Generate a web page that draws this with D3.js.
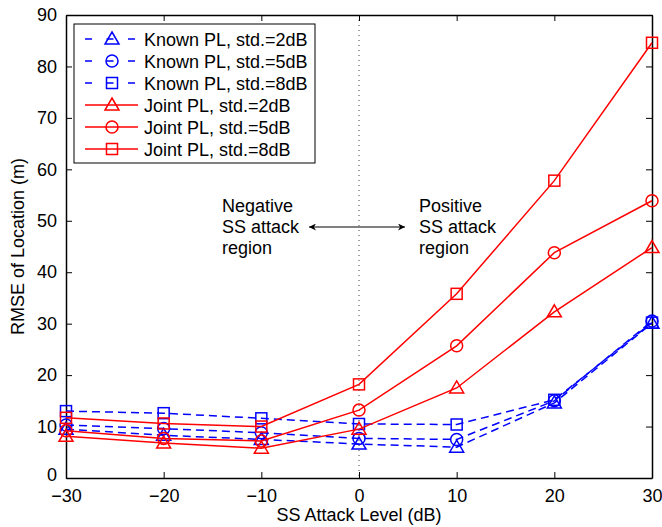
<!DOCTYPE html>
<html lang="en">
<head>
<meta charset="utf-8">
<title>RMSE vs SS attack level</title>
<script src="https://d3js.org/d3.v7.min.js"></script>
<style>
  body { margin: 0; background: #fff; }
  text { font-family: "Liberation Sans", Arial, Helvetica, sans-serif; }
</style>
</head>
<body>
<svg width="662" height="527"></svg>
<script>
// data
const attackLevels = [-30, -20, -10, 0, 10, 20, 30];
const xTicks = [-30, -20, -10, 0, 10, 20, 30];
const yTicks = [0, 10, 20, 30, 40, 50, 60, 70, 80, 90];

const knownPL2 = [9.5, 8.3, 7.5, 6.6, 6.0, 14.6, 30.1];
const knownPL5 = [10.3, 9.6, 8.8, 7.7, 7.5, 15.0, 30.5];
const knownPL8 = [13.0, 12.6, 11.6, 10.5, 10.4, 15.2, 30.2];
const jointPL2 = [8.1, 6.8, 5.8, 9.5, 17.5, 32.3, 44.8];
const jointPL5 = [9.2, 7.7, 7.2, 13.2, 25.7, 43.8, 53.9];
const jointPL8 = [11.7, 10.6, 10.0, 18.2, 35.8, 57.8, 84.6];

const seriesNames = ["Known PL, std.=2dB", "Known PL, std.=5dB", "Known PL, std.=8dB",
                     "Joint PL, std.=2dB", "Joint PL, std.=5dB", "Joint PL, std.=8dB"];

const series = [
  {name: seriesNames[0], vals: knownPL2, color: "#0000ff", dash: "8,5", marker: "tri"},
  {name: seriesNames[1], vals: knownPL5, color: "#0000ff", dash: "8,5", marker: "circ"},
  {name: seriesNames[2], vals: knownPL8, color: "#0000ff", dash: "8,5", marker: "sq"},
  {name: seriesNames[3], vals: jointPL2, color: "#ff0000", dash: null, marker: "tri"},
  {name: seriesNames[4], vals: jointPL5, color: "#ff0000", dash: null, marker: "circ"},
  {name: seriesNames[5], vals: jointPL8, color: "#ff0000", dash: null, marker: "sq"}
];

const svg = d3.select("svg");
const m = {left: 66, right: 10, top: 15, bottom: 49};
const W = 662, H = 527;
const iw = W - m.left - m.right, ih = H - m.top - m.bottom;
const fs = "18px";

const x = d3.scaleLinear().domain([-30, 30]).range([m.left, m.left + iw]);
const y = d3.scaleLinear().domain([0, 90]).range([m.top + ih, m.top]);

// vertical dotted line at 0
svg.append("line")
  .attr("x1", x(0)).attr("x2", x(0))
  .attr("y1", y(90)).attr("y2", y(0))
  .attr("stroke", "#444").attr("stroke-width", 1)
  .attr("stroke-dasharray", "1,4");

// axes, ticks pointing inward (matlab style)
const fmt = d => d < 0 ? "\u2212" + Math.abs(d) : d;
const axB = svg.append("g").attr("transform", `translate(0,${y(0)})`)
  .call(d3.axisBottom(x).tickValues(xTicks).tickSizeInner(-6).tickSizeOuter(0).tickPadding(11).tickFormat(fmt));
const axT = svg.append("g").attr("transform", `translate(0,${y(90)})`)
  .call(d3.axisTop(x).tickValues(xTicks).tickSizeInner(-6).tickSizeOuter(0).tickFormat(""));
const axL = svg.append("g").attr("transform", `translate(${x(-30)},0)`)
  .call(d3.axisLeft(y).tickValues(yTicks).tickSizeInner(-6).tickSizeOuter(0).tickPadding(9));
const axR = svg.append("g").attr("transform", `translate(${x(30)},0)`)
  .call(d3.axisRight(y).tickValues(yTicks).tickSizeInner(-6).tickSizeOuter(0).tickFormat(""));

[axB, axT, axL, axR].forEach(g => {
  g.select(".domain").attr("stroke", "#000").attr("stroke-width", 1.5);
  g.selectAll(".tick line").attr("stroke", "#000").attr("stroke-width", 1);
  g.selectAll("text").attr("fill", "#000").style("font-size", fs);
});
// lift the bottom "0" a touch so it clears the -30 label
axL.selectAll(".tick text").filter(d => d === 0).attr("dy", "0.15em");

// marker helper
function drawMarker(g, type, cx, cy, color) {
  if (type === "tri") {
    g.append("path")
      .attr("d", `M${cx},${cy - 7}L${cx + 7},${cy + 5}L${cx - 7},${cy + 5}Z`)
      .attr("fill", "none").attr("stroke", color).attr("stroke-width", 1.5);
  } else if (type === "circ") {
    g.append("circle").attr("cx", cx).attr("cy", cy).attr("r", 6)
      .attr("fill", "none").attr("stroke", color).attr("stroke-width", 1.5);
  } else {
    g.append("rect").attr("x", cx - 5.5).attr("y", cy - 5.5).attr("width", 11).attr("height", 11)
      .attr("fill", "none").attr("stroke", color).attr("stroke-width", 1.5);
  }
}

const line = d3.line().x((d, i) => x(attackLevels[i])).y(d => y(d));

series.forEach(s => {
  const g = svg.append("g");
  g.append("path").datum(s.vals)
    .attr("d", line)
    .attr("fill", "none")
    .attr("stroke", s.color)
    .attr("stroke-width", 1.5)
    .attr("stroke-dasharray", s.dash);
  s.vals.forEach((v, i) => drawMarker(g, s.marker, x(attackLevels[i]), y(v), s.color));
});

// legend
const lg = svg.append("g");
lg.append("rect").attr("x", 74).attr("y", 24).attr("width", 241).attr("height", 139)
  .attr("fill", "#fff").attr("stroke", "#000").attr("stroke-width", 1);
series.forEach((s, i) => {
  const ly = 39 + i * 22;
  lg.append("line").attr("x1", 85).attr("x2", 138).attr("y1", ly).attr("y2", ly)
    .attr("stroke", s.color).attr("stroke-width", 1.5)
    .attr("stroke-dasharray", s.dash ? "7,14.5" : null);
  drawMarker(lg, s.marker, 112, ly, s.color);
  lg.append("text").attr("x", 144).attr("y", ly + 6.5).text(s.name)
    .style("font-size", fs).attr("fill", "#000");
});

// region annotation
const neg = ["Negative", "SS attack", "region"];
const pos = ["Positive", "SS attack", "region"];
neg.forEach((t, i) => svg.append("text").attr("x", 222).attr("y", 212 + i * 21).text(t).style("font-size", fs));
pos.forEach((t, i) => svg.append("text").attr("x", 419).attr("y", 212 + i * 21).text(t).style("font-size", fs));

svg.append("defs").append("marker")
  .attr("id", "ah").attr("viewBox", "0 -5 10 10")
  .attr("refX", 10).attr("refY", 0)
  .attr("markerWidth", 10).attr("markerHeight", 7)
  .attr("markerUnits", "userSpaceOnUse")
  .attr("orient", "auto-start-reverse")
  .append("path").attr("d", "M0,-5L10,0L0,5L3,0Z").attr("fill", "#000");
svg.append("line").attr("x1", 309).attr("x2", 405).attr("y1", 227).attr("y2", 227)
  .attr("stroke", "#000").attr("stroke-width", 1)
  .attr("marker-start", "url(#ah)").attr("marker-end", "url(#ah)");

// axis titles
svg.append("text").attr("x", x(0)).attr("y", 521).attr("text-anchor", "middle")
  .style("font-size", fs).text("SS Attack Level (dB)");
svg.append("text").attr("transform", `translate(24,${y(45)}) rotate(-90)`).attr("text-anchor", "middle")
  .style("font-size", fs).text("RMSE of Location (m)");
</script>
</body>
</html>
